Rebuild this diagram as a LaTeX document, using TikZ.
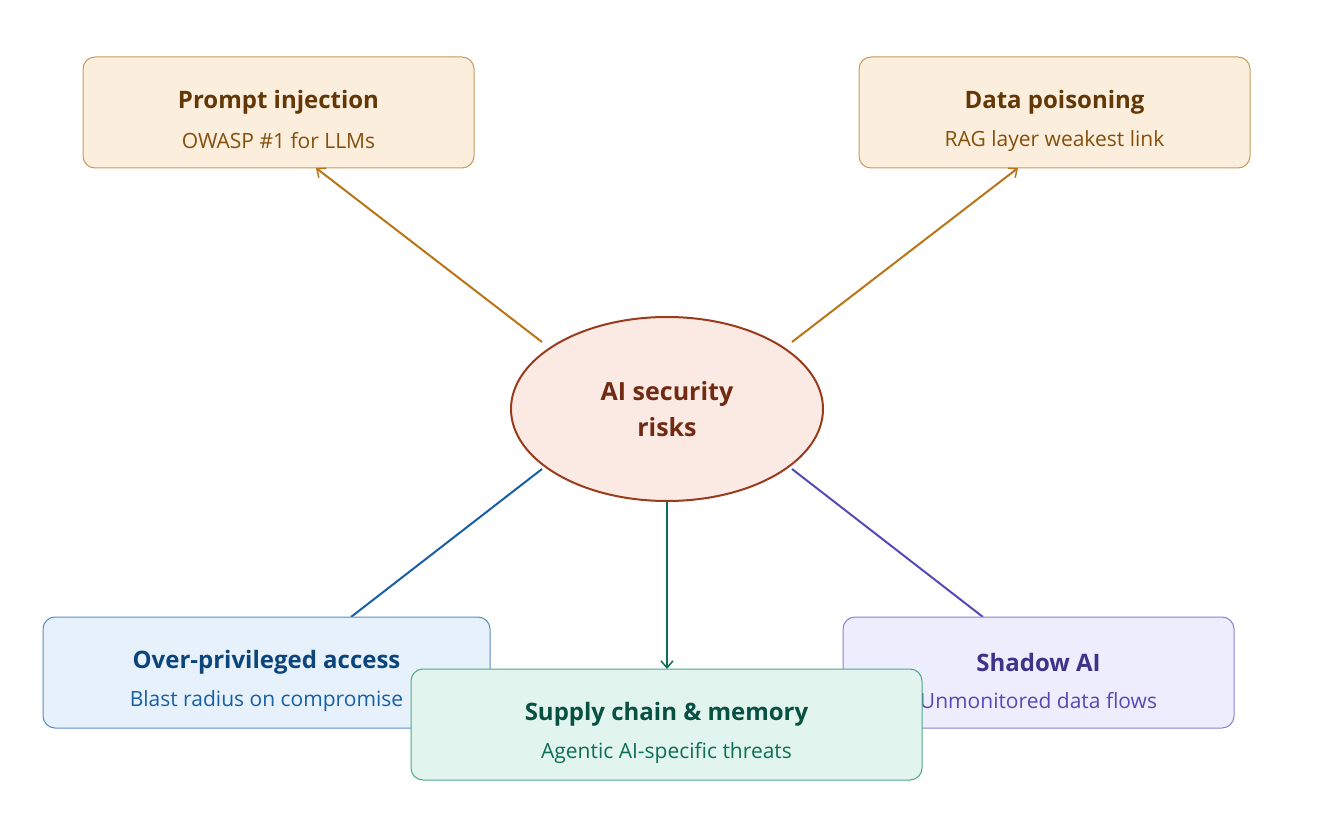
\documentclass[tikz,border=0pt]{standalone}
\usepackage{fontspec}
\setmainfont{Open Sans}
\usetikzlibrary{shapes.geometric,arrows.meta}
\definecolor{ofill}{HTML}{FCEEDD}\definecolor{odraw}{HTML}{C79A5C}\definecolor{otit}{HTML}{633806}\definecolor{osub}{HTML}{854F0B}\definecolor{oline}{HTML}{BA7517}
\definecolor{efill}{HTML}{FBEAE3}\definecolor{edraw}{HTML}{993C1D}\definecolor{etit}{HTML}{712B13}
\definecolor{bfill}{HTML}{E6F1FB}\definecolor{bdraw}{HTML}{5A8CC6}\definecolor{btit}{HTML}{0C447C}\definecolor{bsub}{HTML}{185FA5}
\definecolor{gfill}{HTML}{E1F5EE}\definecolor{gdraw}{HTML}{4FA883}\definecolor{gtit}{HTML}{085041}\definecolor{gsub}{HTML}{0F6E56}
\definecolor{pfill}{HTML}{EEEDFE}\definecolor{pdraw}{HTML}{8A80D4}\definecolor{ptit}{HTML}{3C3489}\definecolor{psub}{HTML}{534AB7}
\tikzset{
 box/.style={rectangle,rounded corners=12pt,line width=1pt,minimum height=111pt,align=center},
 tit/.style={font=\fontsize{24}{28}\selectfont\bfseries},
 sub/.style={font=\fontsize{21}{26}\selectfont},
 conn/.style={line width=2pt},
 arr/.style={conn,-{Straight Barb[length=7pt,width=12pt,line width=1.5pt]}},
}
\begin{document}
\begin{tikzpicture}[x=1pt,y=-1pt]
\useasboundingbox[fill=white] (0,0) rectangle (1334,826);
\node[ellipse,draw=edraw,fill=efill,line width=2pt,minimum width=312pt,minimum height=184pt,text=etit,align=center,font=\fontsize{25}{36}\selectfont\bfseries] (c) at (667,409) {AI security\\risks};
\node[box,fill=ofill,draw=odraw,minimum width=391pt] (pi) at (278.5,112.5) {};
\node[tit,text=otit] at (278.5,102) {Prompt injection};
\node[sub,text=osub] at (278.5,141) {OWASP \#1 for LLMs};
\node[box,fill=ofill,draw=odraw,minimum width=391pt] (dp) at (1054.5,112.5) {};
\node[tit,text=otit] at (1054.5,102) {Data poisoning};
\node[sub,text=osub] at (1054.5,141) {RAG layer weakest link};
\coordinate (c1) at (542,342);\coordinate (c2) at (792,342);
\coordinate (c3) at (542,469);\coordinate (c4) at (792,469);\coordinate (c5) at (667,501);
\coordinate (t1) at (316,168);\coordinate (t2) at (1018,168);
\coordinate (t3) at (351,617);\coordinate (t4) at (983,617);\coordinate (t5) at (667,669);
\draw[arr,oline] (c1) -- (t1);
\draw[arr,oline] (c2) -- (t2);
\draw[conn,bsub] (c3) -- (t3);
\draw[conn,psub] (c4) -- (t4);
\draw[arr,gsub] (c5) -- (t5);
\node[box,fill=bfill,draw=bdraw,minimum width=447pt] (op) at (266.5,672.5) {};
\node[tit,text=btit] at (266.5,662) {Over-privileged access};
\node[sub,text=bsub] at (266.5,701) {Blast radius on compromise};
\node[box,fill=pfill,draw=pdraw,minimum width=391pt] (sa) at (1038.5,672.5) {};
\node[tit,text=ptit] at (1038.5,662) {Shadow AI};
\node[sub,text=psub] at (1038.5,701) {Unmonitored data flows};
\node[box,fill=gfill,draw=gdraw,minimum width=511pt] (sc) at (666.5,724.5) {};
\node[tit,text=gtit] at (666.5,714) {Supply chain \& memory};
\node[sub,text=gsub] at (666.5,753) {Agentic AI-specific threats};
\end{tikzpicture}
\end{document}
